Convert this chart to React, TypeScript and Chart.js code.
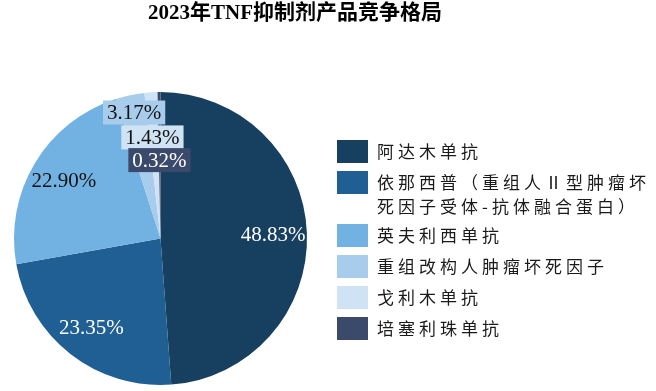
import { useEffect, useRef } from 'react';
import { Chart, registerables } from 'chart.js';

Chart.register(...registerables);

const chartTitle = '2023年TNF抑制剂产品竞争格局';
const categories = [
  '阿达木单抗',
  '依那西普（重组人Ⅱ型肿瘤坏死因子受体-抗体融合蛋白）',
  '英夫利西单抗',
  '重组改构人肿瘤坏死因子',
  '戈利木单抗',
  '培塞利珠单抗',
];
const legendLines = [
  ['阿达木单抗'],
  ['依那西普（重组人Ⅱ型肿瘤坏', '死因子受体-抗体融合蛋白）'],
  ['英夫利西单抗'],
  ['重组改构人肿瘤坏死因子'],
  ['戈利木单抗'],
  ['培塞利珠单抗'],
];
const shares = [48.83, 23.35, 22.9, 3.17, 1.43, 0.32];
const sliceColors = ['#173f5f', '#1f5f93', '#72b2e2', '#a8cdec', '#d0e3f4', '#3b4a6b'];
const labelTextColors = ['#ffffff', '#ffffff', '#111111', '#111111', '#111111', '#ffffff'];
// offsets (fractions of radius) for labels of thin slices, stacked near the top
const smallLabelOffsets: ([number, number] | null)[] = [
  null,
  null,
  null,
  [-0.18, -0.86],
  [-0.055, -0.69],
  [-0.007, -0.535],
];

const SERIF = '"Liberation Serif", "Times New Roman", "Noto Sans CJK SC", serif';
const CJK = '"Noto Sans CJK SC", "Liberation Serif", serif';

const overlayPlugin = {
  id: 'overlay',
  afterDraw(chart: any) {
    const ctx: CanvasRenderingContext2D = chart.ctx;
    const meta = chart.getDatasetMeta(0);
    // title
    ctx.save();
    ctx.fillStyle = '#000';
    ctx.font = `bold 21px ${SERIF}`;
    ctx.textAlign = 'center';
    ctx.textBaseline = 'middle';
    ctx.fillText(chartTitle, 295, 14);
    ctx.restore();

    // data labels
    meta.data.forEach((arc: any, i: number) => {
      const { x, y, startAngle, endAngle, outerRadius } = arc.getProps(
        ['x', 'y', 'startAngle', 'endAngle', 'outerRadius'],
        true
      );
      let lx: number, ly: number;
      const off = smallLabelOffsets[i];
      if (off) {
        lx = x + off[0] * outerRadius;
        ly = y + off[1] * outerRadius;
      } else {
        const mid = (startAngle + endAngle) / 2;
        lx = x + Math.cos(mid) * outerRadius * 0.77;
        ly = y + Math.sin(mid) * outerRadius * 0.77;
      }
      const text = shares[i].toFixed(2) + '%';
      ctx.save();
      ctx.font = `21px ${SERIF}`;
      if (off) {
        const w = ctx.measureText(text).width + 8;
        const h = 24;
        ctx.fillStyle = sliceColors[i];
        ctx.fillRect(lx - w / 2, ly - h / 2, w, h);
      }
      ctx.fillStyle = labelTextColors[i];
      ctx.textAlign = 'center';
      ctx.textBaseline = 'middle';
      ctx.fillText(text, lx, ly + 1);
      ctx.restore();
    });

    // legend
    const sx = 337;
    const tx = 377;
    let cy = 151.5;
    legendLines.forEach((lines, i) => {
      ctx.save();
      ctx.fillStyle = sliceColors[i];
      ctx.fillRect(sx, cy - 11.5, 31, 23);
      ctx.fillStyle = '#1a1a1a';
      ctx.font = `17px ${CJK}`;
      (ctx as any).letterSpacing = '4px';
      ctx.textAlign = 'left';
      ctx.textBaseline = 'middle';
      lines.forEach((ln, j) => {
        ctx.fillText(ln, tx, cy + j * 24);
      });
      ctx.restore();
      cy += 31 + (lines.length - 1) * 22;
    });
  },
};

export default function App() {
  const ref = useRef<HTMLCanvasElement>(null);
  useEffect(() => {
    document.body.style.margin = '0';
    const chart = new Chart(ref.current!, {
      type: 'pie',
      data: {
        labels: categories,
        datasets: [
          {
            data: shares,
            backgroundColor: sliceColors,
            borderWidth: 0,
          },
        ],
      },
      options: {
        animation: false,
        responsive: false,
        maintainAspectRatio: false,
        layout: { padding: { left: 14, top: 92, right: 349, bottom: 6 } },
        plugins: {
          legend: { display: false },
          tooltip: { enabled: false },
          title: { display: false },
        },
      },
      plugins: [overlayPlugin],
    });
    return () => chart.destroy();
  }, []);
  return (
    <div style={{ width: 656, height: 391, background: '#fff' }}>
      <canvas ref={ref} width={656} height={391} style={{ display: 'block' }} />
    </div>
  );
}
